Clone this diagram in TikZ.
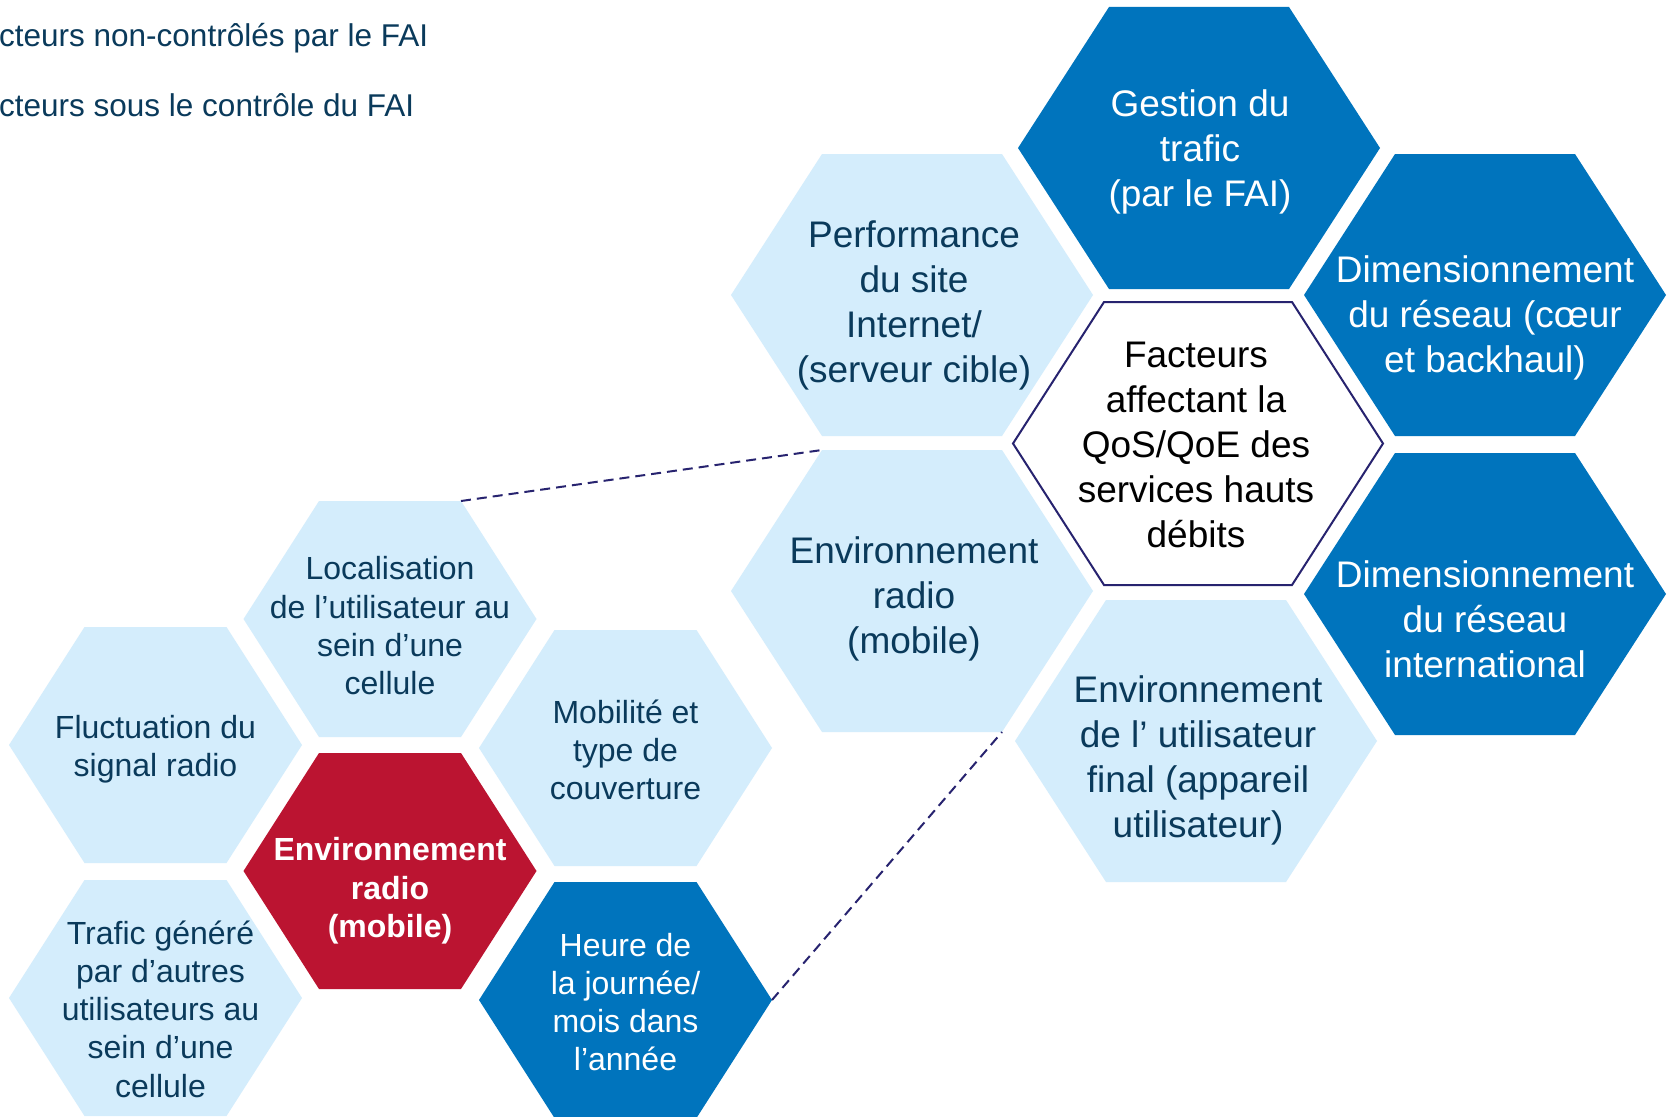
\documentclass[tikz,border=0pt]{standalone}
\usepackage{fontspec}
\setmainfont{Liberation Sans}
\definecolor{lblue}{HTML}{D4EDFC}
\definecolor{dblue}{HTML}{0074BD}
\definecolor{rred}{HTML}{BB1431}
\definecolor{navytxt}{HTML}{0A3A5B}
\definecolor{outln}{HTML}{27236F}
\tikzset{
  hexLB/.style={fill=lblue},
  hexDB/.style={fill=dblue},
  hexCT/.style={fill=white, draw=outln, line width=2pt, line join=miter},
  hexLS/.style={fill=lblue},
  hexDS/.style={fill=dblue},
  hexRS/.style={fill=rred},
  txtbase/.style={align=center, inner sep=0pt},
  txtLB/.style={txtbase, text=navytxt, font=\fontsize{37}{45}\selectfont},
  txtDB/.style={txtbase, text=white, font=\fontsize{37}{45}\selectfont},
  txtCT/.style={txtbase, text=black, font=\fontsize{37}{45}\selectfont},
  txtLS/.style={txtbase, text=navytxt, font=\fontsize{32}{38.3}\selectfont},
  txtDS/.style={txtbase, text=white, font=\fontsize{32}{38.3}\selectfont},
  txtRS/.style={txtbase, text=white, font=\fontsize{32}{38.3}\selectfont\bfseries},
  legendtxt/.style={inner sep=0pt, anchor=base west, text=navytxt, font=\fontsize{31.5}{38}\selectfont},
  link/.style={draw=outln, line width=2pt, dash pattern=on 10pt off 6pt}
}
% #1 name, #2 cx, #3 cy, #4 half width, #5 half height, #6 half top edge, #7 kind, #8 text offset (dx,dy), #9 text
\newcommand{\hexcell}[9]{%
  \coordinate (#1-w)  at ({#2-#4},{#3});
  \coordinate (#1-nw) at ({#2-#6},{#3-#5});
  \coordinate (#1-ne) at ({#2+#6},{#3-#5});
  \coordinate (#1-e)  at ({#2+#4},{#3});
  \coordinate (#1-se) at ({#2+#6},{#3+#5});
  \coordinate (#1-sw) at ({#2-#6},{#3+#5});
  \path[hex#7] (#1-w) -- (#1-nw) -- (#1-ne) -- (#1-e) -- (#1-se) -- (#1-sw) -- cycle;
  \node[txt#7] (#1) at ($({#2},{#3})+#8$) {#9};
}
\usetikzlibrary{calc}
\begin{document}
\begin{tikzpicture}[x=1pt,y=-1pt]
\clip (0,0) rectangle (1672,1116);
\fill[white] (0,0) rectangle (1672,1116);

% legend (cut at the left edge)
\node[legendtxt] (leg1) at (-1,47) {cteurs non-contrôlés par le FAI};
\node[legendtxt] (leg2) at (-1,116) {cteurs sous le contrôle du FAI};

% right cluster
\hexcell{perf}{912}{295}{181}{141}{90}{LB}{(2,10)}{Performance\\du site\\Internet/\\(serveur cible)}
\hexcell{envr}{912}{591}{181}{141}{90}{LB}{(2,8)}{Environnement\\radio\\(mobile)}
\hexcell{gest}{1199}{148}{181}{141}{90}{DB}{(1,4)}{Gestion du\\trafic\\(par le FAI)}
\hexcell{centre}{1198}{443.5}{185}{141.5}{94}{CT}{(-2,1)}{Facteurs\\affectant la\\QoS/QoE des\\services hauts\\débits}
\hexcell{envu}{1196}{741}{181}{141}{90}{LB}{(2,19)}{Environnement\\de l’ utilisateur\\final (appareil\\utilisateur)}
\hexcell{dimc}{1485}{295}{181}{141}{90}{DB}{(0,23)}{Dimensionnement\\du réseau (cœur\\et backhaul)}
\hexcell{dimi}{1485}{594}{181}{141}{90}{DB}{(0,25)}{Dimensionnement\\du réseau\\international}

% left cluster
\hexcell{loc}{390}{619}{146.5}{118}{71}{LS}{(0,7)}{Localisation\\de l’utilisateur au\\sein d’une\\cellule}
\hexcell{fluct}{155.5}{745}{146.5}{118}{71}{LS}{(0,4)}{Fluctuation du\\signal radio}
\hexcell{red}{390}{871}{146.5}{118}{71}{RS}{(0,20)}{Environnement\\radio\\(mobile)}
\hexcell{mob}{625.5}{748}{146.5}{118}{71}{LS}{(0,2)}{Mobilité et\\type de\\couverture}
\hexcell{traf}{155.5}{998}{146.5}{118}{71}{LS}{(5,11)}{Trafic généré\\par d’autres\\utilisateurs au\\sein d’une\\cellule}
\hexcell{heure}{625.5}{1000}{146.5}{118}{71}{DS}{(0,2)}{Heure de\\la journée/\\mois dans\\l’année}

% dashed zoom lines
\draw[link] (loc-ne) -- (envr-nw);
\draw[link] (heure-e) -- (envr-se);
\end{tikzpicture}
\end{document}
